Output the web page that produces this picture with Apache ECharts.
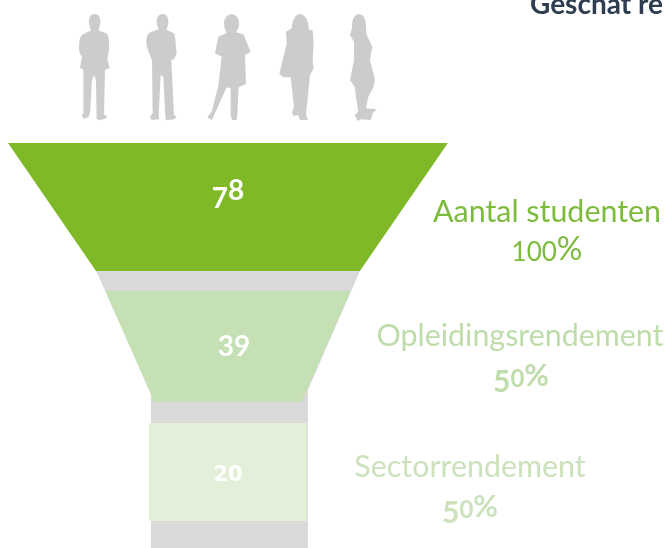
<!DOCTYPE html>
<html><head><meta charset="utf-8">
<style>html,body{margin:0;padding:0;background:#fff;overflow:hidden}#c{width:669px;height:548px}</style>
<script src="https://cdn.jsdelivr.net/npm/echarts@6/dist/echarts.min.js"></script>
</head><body><div id="c"></div>
<script>
// ---- data ----
const stages = ['Aantal studenten', 'Opleidingsrendement', 'Sectorrendement'];
const students = [78, 39, 20];
const rates = ['100%', '50%', '50%'];
const chartTitle = 'Geschat re';

// ---- styling and schematic layout (separate from data) ----
const stageFill = ['#7FB927', '#C5E0B4', '#E2EFD9'];
const stageText = ['#7CBB3B', '#BFDCAB', '#CBE2BC'];
const neckOffset = [12.5, 11.5, 12.5]; // funnel half width = students + offset on the hidden x axis
const taper = [0.6, 0.6, 1];           // bottom width / top width per stage
const bands = [[143, 271], [291, 402], [423, 521]];
const labelAt = [[547, 212, 547, 250, false], [520, 336, 521, 376, true], [470, 467, 470, 507, true]];
const numberAt = [[228, 193, 28], [234, 341, 28], [228, 473, 26]];

const people = [
 'M284 42C297 42 302 55 301 68C300 80 296 84 296 92L318 100C326 104 328 120 327 150C326 165 322 170 322 178L329 203L315 210L312 345L322 348L316 356L296 361L290 356L288 240L282 225L276 240L270 340L265 352L250 356L246 345L250 340L250 210L240 203L246 170C238 160 236 150 238 125C240 105 250 100 272 92C272 84 268 80 267 68C266 55 271 42 284 42Z',
 'M488 42C500 42 506 55 505 68C504 78 500 84 500 90L522 100C528 110 526 140 530 160L522 178L514 180L522 345L530 350L522 358L498 361L496 350L490 230L482 225L476 345L478 358L455 360L450 350L458 340L456 182L444 150C436 130 438 105 448 98L476 88C474 80 470 75 470 65C470 52 476 42 488 42Z',
 'M695 43C710 43 719 58 717 75C716 86 710 92 708 97L730 103L752 155L735 165L738 252L716 262L712 345L710 360L696 360L692 345L692 265L680 262L640 350L636 360L622 352L635 335L655 258L665 170L645 160L655 110L680 98C675 90 672 80 672 70C672 55 682 43 695 43Z',
 'M900 42C915 44 926 60 926 88L938 92L941 130L938 185L941 205L930 225L918 345L924 360L900 360L894 345L880 348L876 338L882 320L872 232L850 232L838 222L848 180L860 130L858 95L875 85C876 60 888 42 900 42Z',
 'M1078 42C1092 44 1100 60 1098 85L1100 105L1117 140L1110 180L1125 240L1120 262L1105 290L1098 325L1130 328L1118 340L1112 360L1085 358L1072 362L1065 345L1075 335L1068 290L1064 260L1050 240L1062 180L1062 125L1050 105L1056 85C1054 60 1064 42 1078 42Z'
];

const FONT = 'Lato, "Open Sans", sans-serif';

// digit figures in the reference are old-style: emulate with per-digit rich tokens
function figures(text, size, weight, color, wideFont) {
  const rich = {}; let out = '';
  const small = Math.round(size * 0.8);
  const base = {fontFamily: FONT, fontWeight: weight, fill: color};
  rich.x = Object.assign({}, base, {fontSize: small, padding: [Math.round(size * 0.2), 0, 0, 0]},
    wideFont ? {fontFamily: wideFont} : {});
  rich.d = Object.assign({fontSize: size, padding: [Math.round(size * 0.42), 0, 0, 0]}, base);
  rich.u = Object.assign({fontSize: size, padding: [0, 0, Math.round(size * 0.18), 0]}, base);
  rich.p = Object.assign({fontSize: size}, base);
  for (const ch of text) {
    const k = '012'.includes(ch) ? 'x' : '3457'.includes(ch) || ch === '9' ? 'd' : ch === '8' || ch === '6' ? 'u' : 'p';
    out += '{' + k + '|' + ch + '}';
  }
  return {text: out, rich};
}

const silhouettes = {
  type: 'custom', silent: true, z: 1, clip: false,
  data: [0],
  renderItem() {
    return {type: 'group', scaleX: 1 / 3, scaleY: 1 / 3,
      children: people.map(d => ({type: 'path', shape: {pathData: d}, style: {fill: '#CCCCCC'}}))};
  }
};

const funnelBack = {
  type: 'custom', silent: true, z: 1, clip: true,
  data: [[students[0], students[2]]],
  renderItem(params, api) {
    const wide = (api.value(0) + neckOffset[0]) * taper[0], neck = api.value(1) + neckOffset[2];
    const pts = [[-wide, 271], [wide, 271], [neck + 0.4, 390], [neck + 0.4, 548], [-neck + 0.8, 548], [-neck + 0.8, 390]];
    return {type: 'polygon', shape: {points: pts.map(p => api.coord(p))}, style: {fill: '#D9D9D9'}};
  }
};

const funnelStages = {
  type: 'custom', silent: true, z: 2, clip: false,
  data: students.map((v, i) => [v, i]),
  renderItem(params, api) {
    const i = api.value(1), h = api.value(0) + neckOffset[i], b = bands[i];
    const pts = [[-h, b[0]], [h, b[0]], [h * taper[i], b[1]], [-h * taper[i], b[1]]];
    const n = numberAt[i];
    const num = figures(String(students[i]), n[2], 700, '#fff', i === 2 ? '"DejaVu Sans"' : null);
    const la = labelAt[i];
    const rate = figures(rates[i], la[4] ? 30 : 32, la[4] ? 700 : 400, stageText[i]);
    return {type: 'group', children: [
      {type: 'polygon', shape: {points: pts.map(p => api.coord(p))}, style: {fill: stageFill[i]}},
      {type: 'text', x: n[0], y: n[1], style: {text: num.text, rich: num.rich, align: 'center', verticalAlign: 'middle'}},
      {type: 'text', x: la[0], y: la[1], style: {text: stages[i], font: '400 30.4px ' + FONT, fill: stageText[i], align: 'center', verticalAlign: 'middle'}},
      {type: 'text', x: la[2], y: la[3], style: {text: rate.text, rich: rate.rich, align: 'center', verticalAlign: 'middle'}}
    ]};
  }
};

const chart = echarts.init(document.getElementById('c'), null, {renderer: 'canvas'});
chart.setOption({
  animation: false,
  backgroundColor: '#fff',
  grid: {left: 0, right: 0, top: 0, bottom: 0},
  xAxis: {type: 'value', min: -93.8, max: 181.5, show: false},
  yAxis: {type: 'value', min: 0, max: 548, inverse: true, show: false},
  graphic: [
    {type: 'text', x: 530, y: -9, style: {text: chartTitle, font: '700 28px ' + FONT, fill: '#2F3D50'}}
  ],
  series: [silhouettes, funnelBack, funnelStages]
});
</script></body></html>
